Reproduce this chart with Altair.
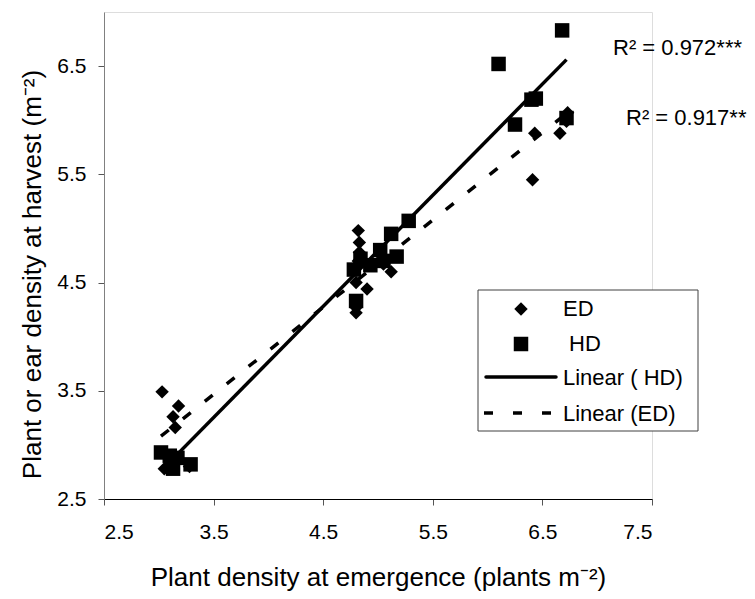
import altair as alt
import pandas as pd

# ED (diamonds) and HD (squares) observations
ed_x = [3.03, 3.18, 3.13, 3.15, 3.05, 3.28, 4.82, 4.83, 4.83, 4.82, 4.80, 4.80, 4.80, 4.90, 5.12, 5.05, 6.41, 6.43, 6.66, 6.72, 6.73]
ed_y = [3.49, 3.36, 3.26, 3.16, 2.78, 2.80, 4.98, 4.87, 4.78, 4.70, 4.50, 4.27, 4.22, 4.44, 4.60, 4.67, 5.45, 5.88, 5.88, 5.99, 6.07]
hd_x = [3.02, 3.10, 3.13, 3.17, 3.29, 3.12, 4.78, 4.80, 4.84, 4.93, 5.02, 5.05, 5.12, 5.17, 5.28, 6.10, 6.25, 6.40, 6.44, 6.68, 6.72]
hd_y = [2.93, 2.90, 2.78, 2.88, 2.82, 2.85, 4.62, 4.33, 4.72, 4.66, 4.80, 4.70, 4.95, 4.74, 5.07, 6.52, 5.96, 6.19, 6.20, 6.83, 6.02]

# fitted trend lines (end points)
hd_fit_x = [3.02, 6.72]
hd_fit_y = [2.76, 6.56]
ed_fit_x = [3.02, 6.73]
ed_fit_y = [3.08, 6.07]

x_ticks = [2.5, 3.5, 4.5, 5.5, 6.5, 7.5]
y_ticks = [2.5, 3.5, 4.5, 5.5, 6.5]

r2_labels = ["R² = 0.972***", "R² = 0.917**"]
legend_labels = ["ED", "HD", "Linear ( HD)", "Linear (ED)"]

FONT = "Liberation Sans"
W, H = 548, 487

ed = pd.DataFrame({"x": ed_x, "y": ed_y})
hd = pd.DataFrame({"x": hd_x, "y": hd_y})
hdl = pd.DataFrame({"x": hd_fit_x, "y": hd_fit_y})
edl = pd.DataFrame({"x": ed_fit_x, "y": ed_fit_y})

xs = alt.Scale(domain=[2.5, 7.5], nice=False, zero=False)
ys = alt.Scale(domain=[2.5, 7.0], nice=False, zero=False)

xax = alt.Axis(values=x_ticks, format=".1f", grid=False, title="Plant density at emergence (plants m⁻²)",
               domainColor="#000000", tickColor="#555555", tickSize=6, labelPadding=16,
               labelFontSize=21, titleFontSize=26, labelFont=FONT, titleFont=FONT,
               titleFontWeight="normal", labelColor="#000", titleColor="#000",
               titleBaseline="middle", titleY=78)
yax = alt.Axis(values=y_ticks, format=".1f", grid=False, title="Plant or ear density at harvest  (m⁻²)",
               domainColor="#808080", tickColor="#555555", tickSize=6, labelPadding=12,
               labelFontSize=21, titleFontSize=26, labelFont=FONT, titleFont=FONT,
               titleFontWeight="normal", labelColor="#000", titleColor="#000",
               titleBaseline="middle", titleX=-72, titleY=262)

pts_ed = alt.Chart(ed).mark_point(shape="diamond", filled=True, color="black", size=180, opacity=1).encode(
    x=alt.X("x:Q", scale=xs, axis=xax), y=alt.Y("y:Q", scale=ys, axis=yax))
pts_hd = alt.Chart(hd).mark_point(shape="square", filled=True, color="black", size=210, opacity=1).encode(
    x=alt.X("x:Q", scale=xs), y=alt.Y("y:Q", scale=ys))
line_hd = alt.Chart(hdl).mark_line(color="black", strokeWidth=3.5).encode(
    x=alt.X("x:Q", scale=xs), y=alt.Y("y:Q", scale=ys))
line_ed = alt.Chart(edl).mark_line(color="black", strokeWidth=3.5, strokeDash=[10, 18]).encode(
    x=alt.X("x:Q", scale=xs), y=alt.Y("y:Q", scale=ys))

r2a = alt.Chart(pd.DataFrame({"t": [r2_labels[0]]})).mark_text(
    align="left", baseline="alphabetic", font=FONT, fontSize=22, color="black").encode(
    x=alt.value(509), y=alt.value(43), text="t:N")
r2b = alt.Chart(pd.DataFrame({"t": [r2_labels[1]]})).mark_text(
    align="left", baseline="alphabetic", font=FONT, fontSize=22, color="black").encode(
    x=alt.value(522), y=alt.value(113), text="t:N")

# legend
box = alt.Chart(pd.DataFrame({"a": [0]})).mark_rect(fill="white", stroke="#404040", strokeWidth=1).encode(
    x=alt.value(374), x2=alt.value(594), y=alt.value(278), y2=alt.value(419))
leg_d = alt.Chart(pd.DataFrame({"a": [0]})).mark_point(shape="diamond", filled=True, color="black", size=180, opacity=1).encode(
    x=alt.value(417), y=alt.value(297))
leg_s = alt.Chart(pd.DataFrame({"a": [0]})).mark_point(shape="square", filled=True, color="black", size=210, opacity=1).encode(
    x=alt.value(417), y=alt.value(332))
leg_l1 = alt.Chart(pd.DataFrame({"a": [0]})).mark_rule(color="black", strokeWidth=3.5, strokeCap="round").encode(
    x=alt.value(382), x2=alt.value(452), y=alt.value(365))
leg_l2 = alt.Chart(pd.DataFrame({"a": [0]})).mark_rule(color="black", strokeWidth=3.5, strokeDash=[9, 20]).encode(
    x=alt.value(380), x2=alt.value(458), y=alt.value(401))
leg_df = pd.DataFrame({"t": legend_labels, "px": [459, 465, 459, 459], "py": [297, 332, 366, 402]})
leg_t = alt.Chart(leg_df).mark_text(align="left", baseline="middle", font=FONT, fontSize=22, color="black").encode(
    x=alt.X("px:Q", scale=None), y=alt.Y("py:Q", scale=None), text="t:N")

chart = alt.layer(pts_ed, pts_hd, line_hd, line_ed, r2a, r2b, box, leg_d, leg_s, leg_l1, leg_l2, leg_t).properties(
    width=W, height=H,
    padding={"left": 104, "top": 12, "right": 755 - 104 - W, "bottom": 599 - 12 - H},
    autosize=alt.AutoSizeParams(type="none"),
).configure_view(stroke=None).configure(background="white")

chart.save("out.html", embed_options={"renderer": "svg", "actions": False})
